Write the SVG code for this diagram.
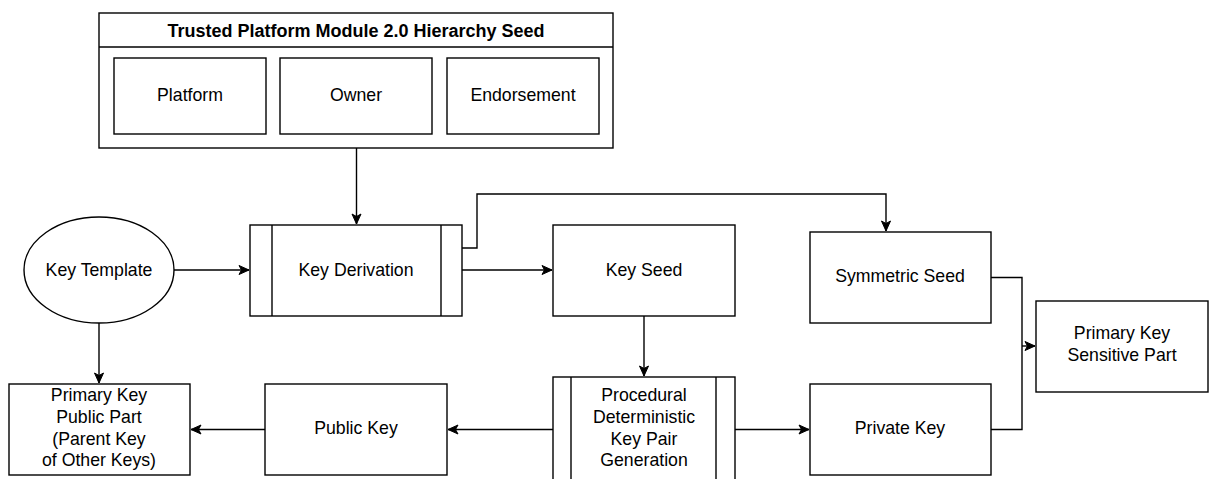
<svg xmlns="http://www.w3.org/2000/svg" width="1211" height="479" viewBox="0 0 1211 479">
<style>
.b{fill:#fff;stroke:#000;stroke-width:1.4}
.l{fill:none;stroke:#000;stroke-width:1.4}
.t{font-family:"Liberation Sans",Arial,sans-serif;font-size:17.7px;fill:#000;text-anchor:middle;dominant-baseline:central}
.h{font-family:"Liberation Sans",Arial,sans-serif;font-size:18px;font-weight:bold;fill:#000;text-anchor:middle;dominant-baseline:central}
</style>
<defs>
<marker id="a" markerUnits="userSpaceOnUse" markerWidth="12" markerHeight="12" viewBox="0 0 12 12" refX="11" refY="6" orient="auto">
<path d="M1,1.5 L11,6 L1,10.5 L3.5,6 Z" fill="#000" stroke="#000" stroke-width="1"/>
</marker>
</defs>
<rect width="1211" height="479" fill="#fff"/>
<g id="tpm">
<rect class="b" x="99" y="13" width="514" height="135"/>
<line class="l" x1="99" y1="47" x2="613" y2="47"/>
<text class="h" x="356" y="31">Trusted Platform Module 2.0 Hierarchy Seed</text>
</g>
<g id="platform"><rect class="b" x="114" y="58" width="152" height="76"/><text class="t" x="190" y="95">Platform</text></g>
<g id="owner"><rect class="b" x="280" y="58" width="152" height="76"/><text class="t" x="356" y="95">Owner</text></g>
<g id="endorsement"><rect class="b" x="447" y="58" width="152" height="76"/><text class="t" x="523" y="95">Endorsement</text></g>
<g id="keytemplate"><ellipse class="b" cx="99" cy="270" rx="75" ry="53"/><text class="t" x="99" y="270">Key Template</text></g>
<g id="keyderivation">
<rect class="b" x="250" y="225" width="212" height="91"/>
<line class="l" x1="272" y1="225" x2="272" y2="316"/>
<line class="l" x1="441" y1="225" x2="441" y2="316"/>
<text class="t" x="356" y="270">Key Derivation</text>
</g>
<g id="keyseed"><rect class="b" x="553" y="225" width="182" height="91"/><text class="t" x="644" y="270">Key Seed</text></g>
<g id="symseed"><rect class="b" x="810" y="232" width="181" height="91"/><text class="t" x="900" y="276">Symmetric Seed</text></g>
<g id="sensitive"><rect class="b" x="1036" y="301" width="172" height="91"/>
<text class="t" x="1122" y="333">Primary Key</text><text class="t" x="1122" y="355">Sensitive Part</text></g>
<g id="publicpart"><rect class="b" x="9" y="384" width="181" height="91"/>
<text class="t" x="99" y="395">Primary Key</text><text class="t" x="99" y="417">Public Part</text><text class="t" x="99" y="438.5">(Parent Key</text><text class="t" x="99" y="460">of Other Keys)</text></g>
<g id="publickey"><rect class="b" x="265" y="384" width="182" height="91"/><text class="t" x="356" y="428">Public Key</text></g>
<g id="procgen">
<rect class="b" x="553" y="377" width="182" height="110"/>
<line class="l" x1="571" y1="377" x2="571" y2="487"/>
<line class="l" x1="716" y1="377" x2="716" y2="487"/>
<text class="t" x="644" y="395">Procedural</text><text class="t" x="644" y="417">Deterministic</text><text class="t" x="644" y="438.5">Key Pair</text><text class="t" x="644" y="460">Generation</text>
</g>
<g id="privatekey"><rect class="b" x="810" y="384" width="181" height="91"/><text class="t" x="900" y="428">Private Key</text></g>
<g id="connectors">
<path class="l" d="M356.5,148 V224" marker-end="url(#a)"/>
<path class="l" d="M174,270 H249" marker-end="url(#a)"/>
<path class="l" d="M462,270 H552" marker-end="url(#a)"/>
<path class="l" d="M462,248 H477 V194 H886 V231" marker-end="url(#a)"/>
<path class="l" d="M99,323 V383" marker-end="url(#a)"/>
<path class="l" d="M644,316 V376" marker-end="url(#a)"/>
<path class="l" d="M553,429.5 H448" marker-end="url(#a)"/>
<path class="l" d="M265,429.5 H191" marker-end="url(#a)"/>
<path class="l" d="M735,429.5 H809" marker-end="url(#a)"/>
<path class="l" d="M991,277.5 H1022 V429.5 H991"/>
<path class="l" d="M1022,346 H1035" marker-end="url(#a)"/>
</g>
</svg>
